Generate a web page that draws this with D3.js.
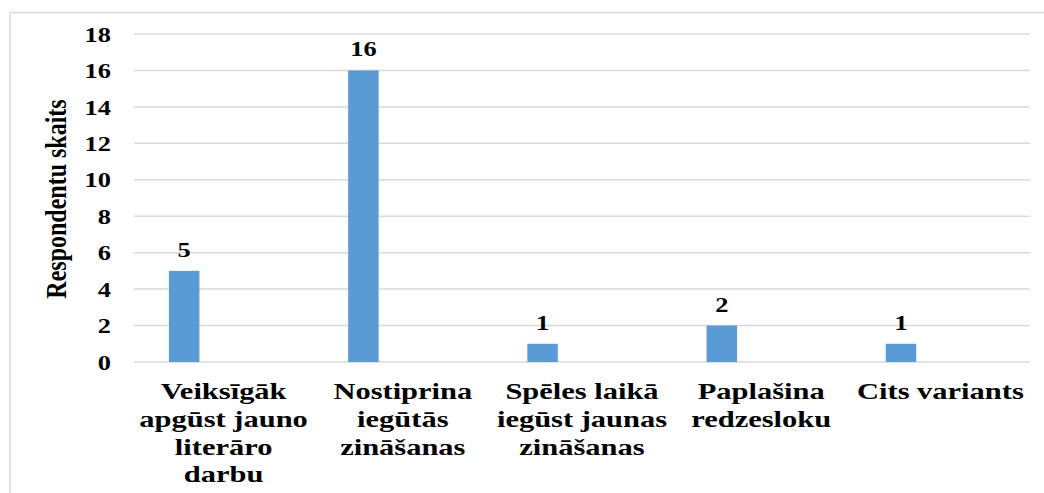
<!DOCTYPE html>
<html>
<head>
<meta charset="utf-8">
<script src="https://cdn.jsdelivr.net/npm/d3@7"></script>
<style>
  body { margin: 0; background: #fff; }
  svg text { font-family: "Liberation Serif", "Times New Roman", serif; font-weight: bold; fill: #000; }
</style>
</head>
<body>
<svg id="chart" width="1044" height="493"></svg>
<script>
var categories = ['c1', 'c2', 'c3', 'c4', 'c5'];
var categoryLines = [
  ['Veiksīgāk', 'apgūst jauno', 'literāro', 'darbu'],
  ['Nostiprina', 'iegūtās', 'zināšanas'],
  ['Spēles laikā', 'iegūst jaunas', 'zināšanas'],
  ['Paplašina', 'redzesloku'],
  ['Cits variants']
];
var values = [5, 16, 1, 2, 1];
var yTicks = [0, 2, 4, 6, 8, 10, 12, 14, 16, 18];
var yTitle = 'Respondentu skaits';

var svg = d3.select('#chart');
var stretch = 1.2; // reference text looks wider than plain Times
var catStretch = 1.27;

// chart border (top + left only visible)
svg.append('path')
  .attr('d', 'M10,493 L10,12.5 L1044,12.5')
  .attr('fill', 'none')
  .attr('stroke', '#d9d9d9')
  .attr('stroke-width', 1.5);

var x = d3.scaleBand().domain(categories).range([134, 1030]).padding(0);
var y = d3.scaleLinear().domain([0, 18]).range([362, 34]);
var bw = x.bandwidth();

// gridlines
svg.append('g').selectAll('line')
  .data(yTicks)
  .enter().append('line')
  .attr('x1', 134).attr('x2', 1030)
  .attr('y1', function (d) { return y(d); })
  .attr('y2', function (d) { return y(d); })
  .attr('stroke', '#d9d9d9')
  .attr('stroke-width', 1.5);

// y tick labels
svg.append('g').selectAll('text')
  .data(yTicks)
  .enter().append('text')
  .attr('transform', function (d) { return 'translate(111,' + y(d) + ') scale(' + stretch + ',1)'; })
  .attr('text-anchor', 'end')
  .attr('dominant-baseline', 'central')
  .style('font-size', '22px')
  .text(function (d) { return d; });

// y title
svg.append('text')
  .attr('transform', 'translate(66,199) rotate(-90) scale(1,' + stretch + ')')
  .attr('text-anchor', 'middle')
  .style('font-size', '24px')
  .text(yTitle);

// bars
svg.append('g').selectAll('rect')
  .data(values)
  .enter().append('rect')
  .attr('x', function (d, i) { return x(categories[i]) + bw * 0.195; })
  .attr('width', bw * 0.17)
  .attr('y', function (d) { return y(d); })
  .attr('height', function (d) { return y(0) - y(d); })
  .attr('fill', '#5b9bd5');

// data labels
svg.append('g').selectAll('text')
  .data(values)
  .enter().append('text')
  .attr('transform', function (d, i) {
    var cx = x(categories[i]) + bw * 0.195 + bw * 0.085;
    return 'translate(' + cx + ',' + (y(d) - 14) + ') scale(' + stretch + ',1)';
  })
  .attr('text-anchor', 'middle')
  .style('font-size', '22px')
  .text(function (d) { return d; });

// category labels
var cats = svg.append('g').selectAll('g')
  .data(categoryLines)
  .enter().append('g')
  .attr('transform', function (d, i) { return 'translate(' + (x(categories[i]) + bw / 2) + ',0)'; });

cats.selectAll('text')
  .data(function (d) { return d; })
  .enter().append('text')
  .attr('transform', function (d, j) { return 'translate(0,' + (399 + j * 27.8) + ') scale(' + catStretch + ',1)'; })
  .attr('text-anchor', 'middle')
  .style('font-size', '24px')
  .text(function (d) { return d; });
</script>
</body>
</html>
